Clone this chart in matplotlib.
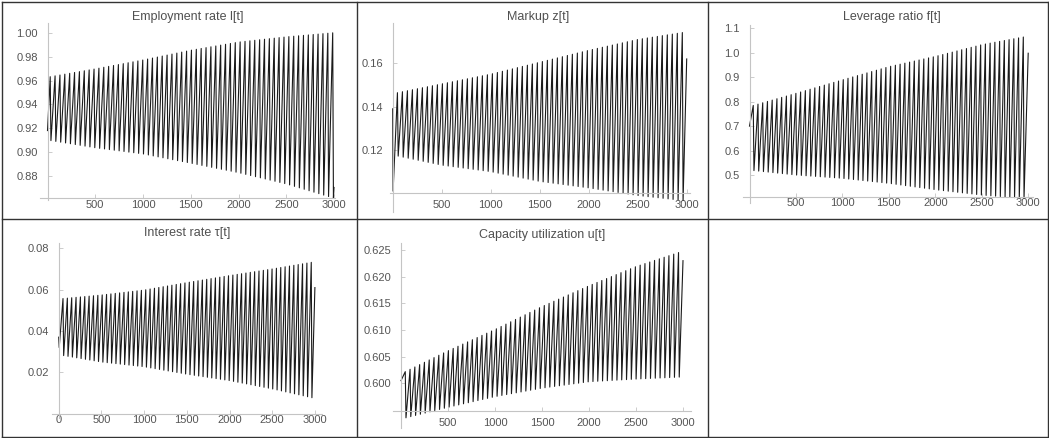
import numpy as np
import matplotlib
matplotlib.use("Agg")
import matplotlib.pyplot as plt
from matplotlib.lines import Line2D

# ---------------- data ----------------
T_ENV = [0, 500, 1000, 1500, 2000, 2500, 3000]   # times at which envelopes were read
PERIOD = 51                                       # cycle length (time units)
FALL_SHARE = 0.15                                 # share of a cycle spent falling (fast drop)

EMP_UPPER = [0.963, 0.970, 0.9775, 0.9857, 0.9926, 0.997, 1.0005]
EMP_LOWER = [0.910, 0.9035, 0.8983, 0.8905, 0.8825, 0.873, 0.861]
EMP_HEAD = [(0, 0.918)]
EMP_END = 0.870
EMP_LAST_TROUGH = 2994

MARKUP_UPPER = [0.146, 0.1505, 0.155, 0.1605, 0.166, 0.171, 0.1745]
MARKUP_LOWER = [0.1177, 0.113, 0.110, 0.1055, 0.1025, 0.099, 0.0965]
MARKUP_HEAD = [(0, 0.139), (4, 0.101)]
MARKUP_END = 0.162
MARKUP_LAST_TROUGH = 2963

LEV_UPPER = [0.78, 0.834, 0.889, 0.943, 0.985, 1.033, 1.068]
LEV_LOWER = [0.52, 0.50, 0.4865, 0.466, 0.44, 0.418, 0.403]
LEV_HEAD = [(0, 0.70)]
LEV_END = 0.998
LEV_LAST_TROUGH = 2955

INT_UPPER = [0.0555, 0.0574, 0.0598, 0.0634, 0.0668, 0.0700, 0.0735]
INT_LOWER = [0.0285, 0.0250, 0.0227, 0.0191, 0.0160, 0.0120, 0.0074]
INT_HEAD = [(0, 0.037), (6, 0.032)]
INT_END = 0.061
INT_LAST_TROUGH = 2965

CAP_UPPER = [0.6018, 0.6061, 0.6101, 0.6144, 0.6183, 0.6219, 0.6248]
CAP_LOWER = [0.5933, 0.5955, 0.5975, 0.5991, 0.6003, 0.6008, 0.6012]
CAP_HEAD = [(0, 0.6005)]
CAP_END = 0.623
CAP_LAST_TROUGH = 2960

TITLES = ["Employment rate l[t]", "Markup z[t]", "Leverage ratio f[t]",
          "Interest rate \u03c4[t]", "Capacity utilization u[t]"]
X_TICKS_A = [500, 1000, 1500, 2000, 2500, 3000]
X_TICKS_B = [0, 500, 1000, 1500, 2000, 2500, 3000]
EMP_YTICKS = [0.88, 0.90, 0.92, 0.94, 0.96, 0.98, 1.00]
MARKUP_YTICKS = [0.12, 0.14, 0.16]
LEV_YTICKS = [0.5, 0.6, 0.7, 0.8, 0.9, 1.0, 1.1]
INT_YTICKS = [0.02, 0.04, 0.06, 0.08]
CAP_YTICKS = [0.600, 0.605, 0.610, 0.615, 0.620, 0.625]


def build_series(upper, lower, head, end, last_trough):
    t0 = head[-1][0]
    fall = PERIOD * FALL_SHARE
    turns = []
    tr = last_trough
    while tr - fall > t0 + 2:
        turns.append((tr, float(np.interp(tr, T_ENV, lower))))
        turns.append((tr - fall, float(np.interp(tr - fall, T_ENV, upper))))
        tr -= PERIOD
    if tr > t0 + 2:
        turns.append((tr, float(np.interp(tr, T_ENV, lower))))
    turns.sort()
    pts = list(head) + turns + [(3000, end)]
    ts = np.array([p[0] for p in pts])
    vs = np.array([p[1] for p in pts])
    return ts, vs


W, H = 1049, 438
fig = plt.figure(figsize=(W / 100, H / 100), dpi=100)
plt.rcParams['font.family'] = ['Liberation Sans', 'DejaVu Sans']

panels = [
    dict(data=(EMP_UPPER, EMP_LOWER, EMP_HEAD, EMP_END, EMP_LAST_TROUGH),
         px0=47.5, sx=0.0955, xlim=(-78, 3015), vref=1.00, pyref=33.3, sy=1186,
         ylim=(0.8596, 1.0087), xaxis_y=0.861, xticks=X_TICKS_A, yticks=EMP_YTICKS,
         fmt="{:.2f}", title=(188, 17), xpad=1),
    dict(data=(MARKUP_UPPER, MARKUP_LOWER, MARKUP_HEAD, MARKUP_END, MARKUP_LAST_TROUGH),
         px0=392.7, sx=0.098, xlim=(-30, 3030), vref=0.16, pyref=63.3, sy=2167,
         ylim=(0.0915, 0.1786), xaxis_y=0.100, xticks=X_TICKS_A, yticks=MARKUP_YTICKS,
         fmt="{:.2f}", title=(538, 17), xpad=5),
    dict(data=(LEV_UPPER, LEV_LOWER, LEV_HEAD, LEV_END, LEV_LAST_TROUGH),
         px0=749.5, sx=0.0929, xlim=(-70, 3050), vref=1.1, pyref=28.3, sy=244.5,
         ylim=(0.3855, 1.1135), xaxis_y=0.411, xticks=X_TICKS_A, yticks=LEV_YTICKS,
         fmt="{:.1f}", title=(892, 17), xpad=1),
    dict(data=(INT_UPPER, INT_LOWER, INT_HEAD, INT_END, INT_LAST_TROUGH),
         px0=58.7, sx=0.0854, xlim=(-78, 3083), vref=0.08, pyref=248.3, sy=2067,
         ylim=(-0.0021, 0.0826), xaxis_y=0.0, xticks=X_TICKS_B, yticks=INT_YTICKS,
         fmt="{:.2f}", title=(187, 233), xpad=1),
    dict(data=(CAP_UPPER, CAP_LOWER, CAP_HEAD, CAP_END, CAP_LAST_TROUGH),
         px0=401, sx=0.094, xlim=(-85, 3080), vref=0.625, pyref=250, sy=5333,
         ylim=(0.5916, 0.6263), xaxis_y=0.5948, xticks=X_TICKS_A, yticks=CAP_YTICKS,
         fmt="{:.3f}", title=(542, 235), xpad=5),
]

axis_col = "#c4c4c4"
lab_col = "#555555"

for p, title in zip(panels, TITLES):
    xl, xr = p['xlim']
    yb, yt = p['ylim']
    left = p['px0'] + xl * p['sx']
    right = p['px0'] + xr * p['sx']
    top = p['pyref'] - (yt - p['vref']) * p['sy']
    bot = p['pyref'] - (yb - p['vref']) * p['sy']
    ax = fig.add_axes([left / W, 1 - bot / H, (right - left) / W, (bot - top) / H])
    ax.set_xlim(xl, xr)
    ax.set_ylim(yb, yt)
    ax.patch.set_alpha(0)
    t, v = build_series(*p['data'])
    ax.plot(t, v, color="#1a1a1a", lw=0.8)
    for s in ['top', 'right']:
        ax.spines[s].set_visible(False)
    ax.spines['left'].set_position(('data', 0))
    ax.spines['bottom'].set_position(('data', p['xaxis_y']))
    for s in ['left', 'bottom']:
        ax.spines[s].set_color(axis_col)
        ax.spines[s].set_linewidth(0.8)
    ax.set_xticks(p['xticks'])
    ax.set_xticklabels([str(x) for x in p['xticks']])
    ax.set_yticks(p['yticks'])
    ax.set_yticklabels([p['fmt'].format(y) for y in p['yticks']])
    ax.tick_params(axis='both', direction='in', length=3, width=0.6, color=axis_col,
                   labelsize=8, labelcolor=lab_col)
    ax.tick_params(axis='x', pad=p['xpad'])
    ax.tick_params(axis='y', pad=7)
    fig.text(p['title'][0] / W, 1 - p['title'][1] / H, title, ha='center', va='center',
             fontsize=9, color="#505050")

# table frame
line_kw = dict(color="#333333", lw=1.0)
def hline(y, x0=1.5, x1=1047.5):
    fig.add_artist(Line2D([x0 / W, x1 / W], [1 - y / H, 1 - y / H], **line_kw))
def vline(x, y0=1.5, y1=436.5):
    fig.add_artist(Line2D([x / W, x / W], [1 - y0 / H, 1 - y1 / H], **line_kw))

hline(1.5); hline(219); hline(436.5)
vline(1.5); vline(357); vline(708); vline(1047.5)

fig.savefig("out.png", dpi=100)
